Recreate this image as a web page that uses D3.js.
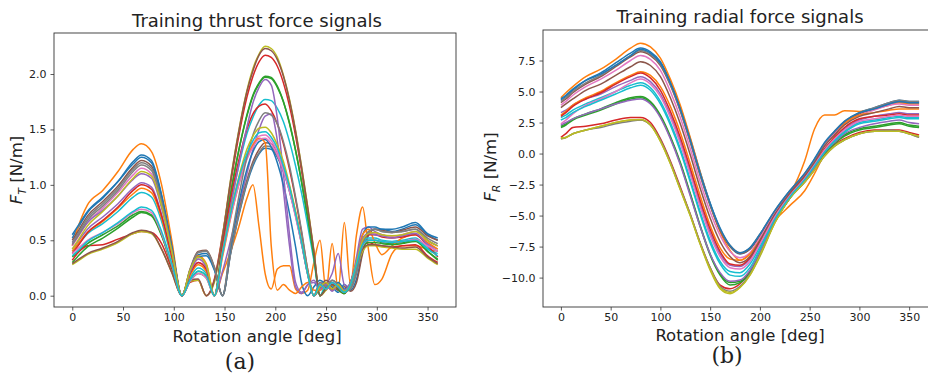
<!DOCTYPE html>
<html>
<head>
<meta charset="utf-8">
<script src="https://cdn.jsdelivr.net/npm/d3@7"></script>
<style>
  body { margin: 0; background: #fff; }
  svg { display: block; }
  text { font-family: "DejaVu Sans", sans-serif; fill: #222; }
</style>
</head>
<body>
<svg id="chart" width="928" height="380"></svg>
<script>
// matplotlib tab10 cycle, one colour per training signal
const colors = ['#1f77b4', '#ff7f0e', '#2ca02c', '#d62728', '#9467bd', '#8c564b', '#e377c2', '#7f7f7f', '#bcbd22', '#17becf'];

const angleTicks = [0, 50, 100, 150, 200, 250, 300, 350];
const thrustTicks = [0, 0.5, 1.0, 1.5, 2.0];
const radialTicks = [-10, -7.5, -5, -2.5, 0, 2.5, 5, 7.5];

// thrust force, values
const thrustAngles = [0, 5, 15, 30, 45, 60, 68, 78, 88, 98, 108, 116, 124, 132, 140, 148, 156, 164, 172, 178, 184, 190, 196, 202, 208, 214, 220, 226, 232, 238, 244, 250, 256, 262, 268, 274, 280, 286, 292, 298, 305, 315, 325, 338, 350, 360];
const thrustSignals = [
  [.52,.60,.75,.88,1.03,1.21,1.27,1.22,.91,.46,0, .22,.37,.38,.24,0, .38,.72,1.01,1.17,1.28,1.33,1.32,1.25,1.12,.94,.72,.46,.19,0, .06,.12,.08,.03,.1,.05,.15,.4,.55,.6,.6,.58,.6,.64,.55,.5],
  [.45,.6,.82,.95,1.12,1.32,1.37,1.3,1.0,.5,0, .23,.36,.29,0,.2, .4,.62,.88,1.0,.62,.2,.06,.24,.27,.27,.06,.02,.05,.3, .5,.05,.47,.05,.66,.1,.55,.8,.4,.1,.15,.38,.45,.45,.42,.4],
  [.35,.39,.47,.55,.63,.73,.76,.73,.55,.27,0, .14,.22,.18,0,.47, .92,1.31,1.63,1.81,1.92,1.98,1.97,1.89,1.75,1.56,1.31,1.02,.70,.36, 0,.08,.1,.05,.02,.1,.25,.45,.5,.5,.48,.47,.48,.5,.4,.33],
  [.32,.38,.45,.46,.51,.56,.58,.57,.47,.24,0, .12,.14,0,.15,.55, 1.01,1.44,1.79,1.98,2.11,2.17,2.15,2.07,1.92,1.71,1.44,1.12,.77,.39, 0,.06,.1,.06,.02,.12,.3,.45,.48,.46,.45,.44,.45,.46,.36,.3],
  [.42,.48,.6,.71,.83,.97,1.02,.98,.73,.37,0, .2,.3,.24,0,.22, .5,.8,1.1,1.32,1.5,1.62,1.64,1.4,.95,.45,.08,.02,.1,.12, .05,.1,.2,.38,.1,.08,.35,.6,.62,.58,.55,.53,.54,.56,.47,.42],
  [.5,.57,.72,.85,.99,1.16,1.22,1.17,.88,.44,0, .24,.4,.41,.26,0, .39,.75,1.04,1.21,1.32,1.38,1.37,1.29,1.16,.98,.75,.48,.2,0, .08,.14,.1,.05,.08,.04,.12,.38,.55,.6,.59,.57,.59,.62,.54,.5],
  [.45,.52,.66,.79,.93,1.09,1.15,1.1,.83,.41,0, .21,.33,.26,0,.38, .73,1.03,1.26,1.37,1.44,1.45,1.4,1.3,1.15,.96,.73,.47,.19,0, .1,.05,.12,.08,.03,.1,.3,.5,.56,.56,.55,.53,.55,.58,.5,.45],
  [.48,.55,.70,.83,.97,1.14,1.2,1.15,.86,.43,0, .23,.39,.4,.25,0, .38,.73,1.02,1.19,1.29,1.35,1.34,1.26,1.14,.95,.73,.47,.19,0, .12,.08,.14,.1,.04,.06,.2,.45,.58,.6,.58,.57,.58,.6,.52,.47],
  [.28,.31,.37,.42,.48,.56,.58,.56,.42,.21,0, .13,.14,0,.12,.54, 1.05,1.49,1.85,2.05,2.18,2.25,2.23,2.15,1.99,1.77,1.49,1.16,.8,.41, 0,.05,.1,.08,.03,.08,.25,.4,.45,.45,.44,.43,.42,.42,.34,.28],
  [.4,.45,.56,.65,.76,.89,.93,.89,.67,.33,0, .16,.25,.2,0,.42, .82,1.17,1.46,1.61,1.72,1.77,1.76,1.69,1.57,1.39,1.17,.92,.63,.32, 0,.1,.06,.12,.05,.08,.28,.48,.52,.52,.5,.49,.5,.52,.43,.38],
  [.55,.62,.76,.89,1.03,1.19,1.25,1.2,.9,.45,0, .21,.35,.36,.23,0, .44,.83,1.14,1.3,1.39,1.41,1.34,1.2,1.0,.74,.44,.11,0,.08, .14,.1,.05,.12,.06,.1,.3,.55,.62,.62,.6,.6,.62,.66,.56,.52],
  [.4,.46,.57,.67,.79,.92,.97,.93,.7,.35,0, .18,.28,.22,0,.35, .7,1.0,1.24,1.36,1.42,1.38,.45,.05,.1,.05,.02,.08,.12,.05, .05,.1,.05,.08,.04,.1,.3,.55,.6,.48,.37,.45,.52,.55,.48,.42],
  [.3,.35,.44,.52,.61,.71,.75,.72,.54,.27,0, .13,.2,.16,0,.47, .92,1.31,1.62,1.8,1.91,1.97,1.96,1.88,1.75,1.55,1.31,1.02,.7,.35, 0,.07,.12,.06,.02,.12,.28,.44,.48,.48,.47,.46,.47,.49,.4,.32],
  [.38,.44,.57,.68,.8,.95,1.0,.96,.72,.36,0, .2,.3,.24,0,.45, .87,1.22,1.5,1.64,1.71,1.73,1.67,1.55,1.37,1.14,.87,.56,.23,0, .08,.12,.06,.1,.04,.1,.3,.5,.55,.55,.53,.52,.53,.55,.45,.35],
  [.47,.53,.66,.77,.9,1.05,1.1,1.06,.79,.4,0, .21,.33,.26,0,.4, .8,1.18,1.52,1.74,1.88,1.95,1.9,1.6,1.1,.55,.12,.03,.1,.14, .06,.1,.04,.1,.05,.12,.32,.52,.56,.55,.54,.52,.54,.56,.46,.4],
  [.29,.32,.38,.43,.49,.57,.59,.57,.42,.21,0, .14,.15,0,.14,.53, 1.04,1.48,1.84,2.03,2.17,2.23,2.21,2.13,1.98,1.76,1.48,1.15,.79,.4, 0,.06,.1,.07,.03,.1,.27,.42,.46,.46,.45,.44,.43,.44,.35,.29],
  [.38,.42,.5,.57,.65,.75,.78,.75,.56,.28,0, .13,.2,.16,0,.37, .71,1.0,1.23,1.34,1.41,1.42,1.37,1.27,1.13,.94,.71,.46,.19,0, .1,.06,.12,.08,.03,.1,.28,.45,.5,.5,.49,.48,.49,.51,.45,.4],
  [.46,.53,.68,.81,.95,1.12,1.18,1.13,.85,.42,0, .23,.39,.4,.25,0, .47,.89,1.25,1.45,1.58,1.65,1.63,1.55,1.39,1.17,.89,.58,.23,0, .12,.08,.14,.1,.04,.06,.22,.46,.58,.6,.58,.57,.58,.6,.5,.45],
  [.42,.49,.63,.76,.9,1.06,1.12,1.08,.81,.4,0, .23,.35,.28,0,.39, .76,1.07,1.32,1.44,1.51,1.52,1.47,1.36,1.21,1.0,.76,.49,.2,0, .08,.12,.06,.1,.04,.1,.3,.5,.56,.57,.55,.54,.55,.58,.5,.45],
  [.36,.4,.49,.57,.66,.76,.8,.77,.58,.29,0, .14,.22,.18,0,.38, .74,1.05,1.28,1.4,1.47,1.48,1.43,1.33,1.17,.98,.74,.48,.19,0, .1,.06,.12,.08,.03,.1,.28,.46,.5,.5,.49,.48,.49,.5,.42,.36]
];

// radial force, values
const radialAngles = [0, 5, 12, 25, 40, 55, 70, 80, 90, 100, 110, 120, 130, 140, 150, 160, 170, 180, 190, 200, 215, 230, 245, 255, 265, 275, 285, 300, 315, 330, 340, 350, 360];
const radialSignals = [
  [4.3,4.6,5.1,5.9,6.5,7.3,8.1,8.5,8.2,7.4,5.8,3.7,1.2,-1.5,-4.0,-6.1,-7.5,-8.1,-7.7,-6.6,-4.7,-3.1,-1.7,-0.5,0.8,1.7,2.5,3.3,3.7,4.1,4.3,4.2,4.2],
  [4.5,4.9,5.4,6.2,6.8,7.6,8.5,8.9,8.6,7.7,6.0,3.9,1.3,-1.5,-4.1,-6.3,-7.8,-8.6,-8.1,-6.8,-4.9,-3.3,-0.6,2.0,3.1,3.1,3.45,3.4,3.6,3.9,4.1,4.0,4.0],
  [2.2,2.4,2.8,3.2,3.6,4.1,4.5,4.6,4.2,3.1,1.4,-0.7,-3.2,-5.8,-8.1,-9.7,-10.4,-10.3,-9.5,-7.9,-5.4,-3.5,-2.2,-1.1,0.0,0.9,1.5,2.0,2.2,2.4,2.5,2.3,2.2],
  [1.3,1.6,2.1,2.2,2.4,2.7,2.9,2.9,2.5,1.2,-0.6,-2.7,-4.9,-7.2,-9.2,-10.6,-10.9,-10.5,-9.5,-8.1,-5.5,-3.6,-2.3,-1.2,-0.1,0.7,1.2,1.7,1.9,1.9,1.9,1.7,1.5],
  [3.3,3.5,3.9,4.4,4.8,5.4,5.9,6.2,5.8,4.8,3.1,1.0,-1.5,-4.1,-6.4,-8.1,-9.0,-9.1,-8.5,-7.2,-5.1,-3.4,-2.0,-0.9,0.3,1.2,2.0,2.7,3.0,3.2,3.3,3.2,3.2],
  [4.1,4.4,4.9,5.6,6.2,7.0,7.8,8.2,7.9,7.1,5.5,3.4,0.9,-1.8,-4.2,-6.2,-7.5,-8.05,-7.7,-6.6,-4.7,-3.1,-1.7,-0.5,0.8,1.7,2.5,3.2,3.6,4.0,4.2,4.1,4.1],
  [3.9,4.2,4.7,5.4,6.0,6.7,7.5,7.9,7.6,6.7,5.0,2.9,0.4,-2.3,-4.7,-6.6,-7.9,-8.4,-8.0,-6.8,-4.8,-3.1,-1.7,-0.6,0.7,1.6,2.4,3.1,3.5,3.9,4.0,3.9,3.9],
  [4.2,4.5,5.0,5.7,6.3,7.1,7.9,8.3,8.0,7.2,5.6,3.5,1.0,-1.7,-4.1,-6.1,-7.4,-8.0,-7.6,-6.5,-4.6,-3.0,-1.6,-0.5,0.8,1.8,2.6,3.3,3.7,4.1,4.3,4.2,4.2],
  [1.2,1.3,1.6,1.9,2.2,2.5,2.7,2.7,2.3,1.0,-0.8,-2.9,-5.0,-7.3,-9.4,-10.9,-11.3,-10.8,-9.8,-8.3,-5.6,-3.6,-2.3,-1.3,-0.2,0.6,1.1,1.6,1.8,1.8,1.8,1.6,1.3],
  [2.9,3.1,3.5,4.0,4.5,5.0,5.5,5.7,5.3,4.2,2.5,0.4,-2.1,-4.7,-7.0,-8.7,-9.5,-9.6,-8.9,-7.5,-5.2,-3.4,-2.1,-1.0,0.2,1.1,1.8,2.5,2.7,2.9,3.0,2.9,2.9],
  [4.4,4.7,5.2,5.9,6.4,7.1,7.9,8.4,8.1,7.3,5.7,3.6,1.1,-1.6,-4.0,-6.0,-7.4,-8.0,-7.6,-6.5,-4.6,-3.0,-1.6,-0.4,0.9,1.8,2.6,3.3,3.6,4.0,4.2,4.1,4.1],
  [3.1,3.4,3.9,4.5,5.0,5.7,6.3,6.6,6.3,5.4,3.8,1.7,-0.8,-3.4,-5.8,-7.6,-8.5,-8.6,-8.1,-7.0,-5.4,-4.2,-3.0,-1.6,0.0,1.4,2.4,3.1,3.3,3.5,3.6,3.6,3.6],
  [2.1,2.3,2.7,3.1,3.5,4.0,4.4,4.5,4.1,3.0,1.3,-0.8,-3.3,-5.9,-8.2,-9.8,-10.6,-10.4,-9.6,-8.0,-5.5,-3.6,-2.2,-1.1,0.0,0.8,1.4,1.9,2.1,2.3,2.4,2.2,2.1],
  [3.0,3.3,3.8,4.4,4.9,5.6,6.2,6.5,6.1,5.1,3.4,1.3,-1.2,-3.8,-6.1,-7.9,-8.9,-9.0,-8.4,-7.1,-5.0,-3.3,-1.9,-0.8,0.4,1.3,2.1,2.8,3.0,3.1,3.2,3.1,3.1],
  [2.3,2.5,2.8,3.2,3.6,4.0,4.3,4.4,4.0,2.9,1.2,-0.9,-3.4,-5.9,-8.1,-9.6,-10.3,-10.2,-9.4,-7.9,-5.4,-3.5,-2.2,-1.1,0.1,0.9,1.6,2.1,2.4,2.6,2.7,2.5,2.4],
  [3.7,4.0,4.4,5.1,5.6,6.3,7.0,7.4,7.1,6.2,4.5,2.4,-0.1,-2.8,-5.2,-7.1,-8.3,-8.8,-8.3,-7.0,-4.9,-3.2,-1.8,-0.7,0.6,1.5,2.3,3.0,3.3,3.6,3.8,3.7,3.7],
  [2.4,2.7,3.2,3.9,4.4,5.0,5.7,6.0,5.6,4.6,2.9,0.8,-1.7,-4.3,-6.6,-8.3,-9.2,-9.3,-8.7,-7.3,-5.1,-3.4,-2.0,-0.9,0.3,1.2,1.9,2.6,2.8,3.0,3.1,3.0,3.0],
  [1.2,1.3,1.6,1.9,2.1,2.4,2.6,2.7,2.3,1.1,-0.7,-2.8,-4.9,-7.2,-9.2,-10.7,-11.1,-10.7,-9.7,-8.2,-5.5,-3.6,-2.3,-1.3,-0.2,0.6,1.1,1.6,1.8,1.9,1.8,1.6,1.3],
  [1.25,1.3,1.6,1.9,2.2,2.5,2.7,2.75,2.3,1.0,-0.8,-2.9,-5.0,-7.3,-9.3,-10.8,-11.2,-10.8,-9.8,-8.2,-5.6,-3.6,-2.3,-1.3,-0.2,0.6,1.1,1.6,1.8,1.8,1.8,1.6,1.4],
  [2.7,2.9,3.3,3.8,4.3,4.8,5.3,5.5,5.1,4.0,2.3,0.2,-2.3,-4.9,-7.2,-8.9,-9.8,-9.9,-9.2,-7.7,-5.3,-3.5,-2.1,-1.0,0.1,1.0,1.7,2.4,2.6,2.8,2.9,2.8,2.8]
];

const svg = d3.select('#chart');
const fmt = d => d3.format('.1f')(d).replace('-', '\u2212');

function drawPanel(cfg) {
  const x = d3.scaleLinear().domain([-18, 378]).range([cfg.left, cfg.right]);
  const y = d3.scaleLinear().domain(cfg.yDomain).range([cfg.bottom, cfg.top]);
  const g = svg.append('g');

  g.append('clipPath').attr('id', cfg.id + '-clip')
    .append('rect').attr('x', cfg.left).attr('y', cfg.top)
    .attr('width', cfg.right - cfg.left).attr('height', cfg.bottom - cfg.top);

  const line = d3.line().curve(d3.curveMonotoneX)
    .x((d, i) => x(cfg.angles[i])).y(d => y(d));

  g.append('g').attr('clip-path', `url(#${cfg.id}-clip)`)
    .selectAll('path').data(cfg.signals).join('path')
    .attr('d', line).attr('fill', 'none')
    .attr('stroke', (d, i) => colors[i % colors.length])
    .attr('stroke-width', 1.5).attr('stroke-linejoin', 'round');

  const xAxis = g.append('g').attr('transform', `translate(0,${cfg.bottom})`)
    .call(d3.axisBottom(x).tickValues(angleTicks).tickSize(3.5).tickPadding(3).tickFormat(d3.format('d')));
  const yAxis = g.append('g').attr('transform', `translate(${cfg.left},0)`)
    .call(d3.axisLeft(y).tickValues(cfg.yTicks).tickSize(3.5).tickPadding(4).tickFormat(fmt));
  [xAxis, yAxis].forEach(a => {
    a.select('.domain').remove();
    a.selectAll('line').attr('stroke', '#333').attr('stroke-width', 0.8);
    a.selectAll('text').style('font-size', '11px').attr('fill', '#333');
  });

  g.append('rect').attr('x', cfg.left).attr('y', cfg.top)
    .attr('width', cfg.right - cfg.left).attr('height', cfg.bottom - cfg.top)
    .attr('fill', 'none').attr('stroke', '#333').attr('stroke-width', 0.9);

  g.append('text').attr('x', cfg.titleX).attr('y', cfg.titleY).attr('text-anchor', 'middle')
    .style('font-size', '18px').text(cfg.title);
  g.append('text').attr('x', cfg.titleX).attr('y', cfg.xLabelY).attr('text-anchor', 'middle')
    .style('font-size', '16.5px').text('Rotation angle [deg]');

  const yl = g.append('text').attr('transform', `translate(${cfg.yLabelX},${cfg.yLabelY}) rotate(-90)`)
    .attr('text-anchor', 'middle').style('font-size', '16.5px');
  yl.append('tspan').style('font-style', 'italic').text('F');
  yl.append('tspan').style('font-style', 'italic').style('font-size', '11px').attr('dy', 4).text(cfg.sub);
  yl.append('tspan').attr('dy', -4).text(' [N/m]');

  g.append('text').attr('x', cfg.capX).attr('y', cfg.capY).attr('text-anchor', 'middle')
    .style('font-family', '"DejaVu Serif", serif').style('font-size', '22px').text(cfg.caption);
}

drawPanel({
  id: 'thrust', left: 54, right: 456, top: 33, bottom: 307,
  yDomain: [-0.102, 2.37], yTicks: thrustTicks,
  angles: thrustAngles, signals: thrustSignals,
  title: 'Training thrust force signals', titleX: 257, titleY: 27,
  xLabelY: 342, yLabelX: 22, yLabelY: 170, sub: 'T',
  caption: '(a)', capX: 240, capY: 369
});

drawPanel({
  id: 'radial', left: 543, right: 937, top: 30, bottom: 307,
  yDomain: [-12.37, 9.96], yTicks: radialTicks,
  angles: radialAngles, signals: radialSignals,
  title: 'Training radial force signals', titleX: 740, titleY: 23,
  xLabelY: 341, yLabelX: 496, yLabelY: 167, sub: 'R',
  caption: '(b)', capX: 727, capY: 363
});
</script>
</body>
</html>
